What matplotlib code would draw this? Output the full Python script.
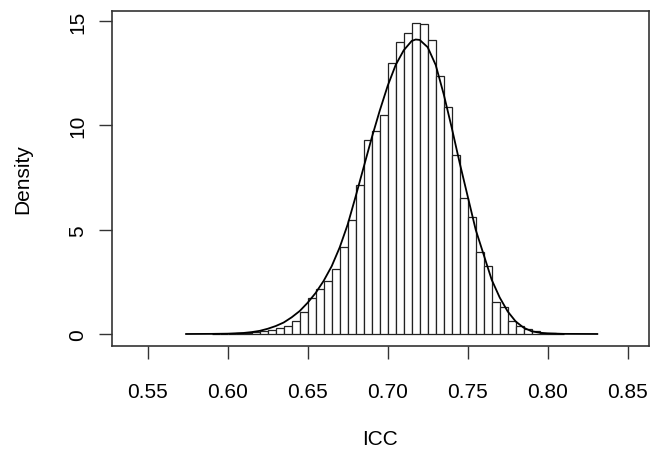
import numpy as np
import matplotlib
matplotlib.use("Agg")
import matplotlib.pyplot as plt

plt.rcParams["font.family"] = ["Liberation Sans", "DejaVu Sans"]

# histogram bins (left edges, width 0.005) and density heights
bin_left = [0.590, 0.595, 0.600, 0.605, 0.610, 0.615, 0.620, 0.625, 0.630, 0.635,
            0.640, 0.645, 0.650, 0.655, 0.660, 0.665, 0.670, 0.675, 0.680, 0.685,
            0.690, 0.695, 0.700, 0.705, 0.710, 0.715, 0.720, 0.725, 0.730, 0.735,
            0.740, 0.745, 0.750, 0.755, 0.760, 0.765, 0.770, 0.775, 0.780, 0.785,
            0.790, 0.795, 0.800, 0.805]
bin_density = [0.01, 0.01, 0.02, 0.04, 0.06, 0.09, 0.13, 0.20, 0.30, 0.40,
               0.60, 1.07, 1.74, 2.15, 2.55, 3.11, 4.19, 5.45, 7.14, 9.28,
               9.71, 10.51, 12.97, 14.00, 14.43, 14.91, 14.86, 14.11, 12.36, 10.88,
               8.58, 6.54, 5.63, 3.91, 3.24, 1.55, 1.31, 0.61, 0.40, 0.24,
               0.12, 0.06, 0.03, 0.01]
bin_width = 0.005

# density curve points
curve_x = [0.574, 0.590, 0.600, 0.610, 0.615, 0.620, 0.625, 0.630, 0.635, 0.640,
           0.645, 0.650, 0.655, 0.660, 0.665, 0.670, 0.675, 0.680, 0.685, 0.690,
           0.695, 0.700, 0.705, 0.710, 0.715, 0.7175, 0.720, 0.725, 0.730, 0.735,
           0.740, 0.745, 0.750, 0.755, 0.760, 0.765, 0.770, 0.775, 0.780, 0.785,
           0.790, 0.795, 0.800, 0.810, 0.831]
curve_y = [0.0, 0.005, 0.015, 0.05, 0.09, 0.15, 0.25, 0.38, 0.55, 0.80,
           1.10, 1.50, 1.97, 2.55, 3.25, 4.15, 5.25, 6.60, 8.00, 9.40,
           10.70, 11.90, 12.90, 13.60, 14.05, 14.12, 14.10, 13.75, 12.90, 11.50,
           9.90, 8.20, 6.60, 5.00, 3.80, 2.60, 1.75, 1.08, 0.60, 0.30,
           0.13, 0.06, 0.03, 0.005, 0.0]

x_ticks = [0.55, 0.60, 0.65, 0.70, 0.75, 0.80, 0.85]
y_ticks = [0, 5, 10, 15]

fig = plt.figure(figsize=(6.55, 4.56), dpi=100)
ax = fig.add_axes([0.1705, 0.2384, 0.8208, 0.7359])

ax.bar(bin_left, bin_density, width=bin_width, align="edge",
       color="white", edgecolor="#222222", linewidth=0.9)
ax.plot(curve_x, curve_y, color="black", linewidth=1.3)

ax.set_xlim(0.5275, 0.8635)
ax.set_ylim(-0.59, 15.5)
ax.set_xticks(x_ticks)
ax.set_xticklabels([f"{t:.2f}" for t in x_ticks])
ax.set_yticks(y_ticks)
ax.set_yticklabels([str(t) for t in y_ticks], rotation=90, va="center")
ax.tick_params(axis="both", direction="out", length=9.6, width=1.0,
               labelsize=15, color="#333333")
ax.tick_params(axis="x", pad=16)
ax.tick_params(axis="y", pad=8)
for s in ax.spines.values():
    s.set_linewidth(1.2)
    s.set_color("#333333")

ax.set_xlabel("ICC", fontsize=15, labelpad=20)
ax.set_ylabel("Density", fontsize=15, labelpad=26)

fig.savefig("out.png", dpi=100)
